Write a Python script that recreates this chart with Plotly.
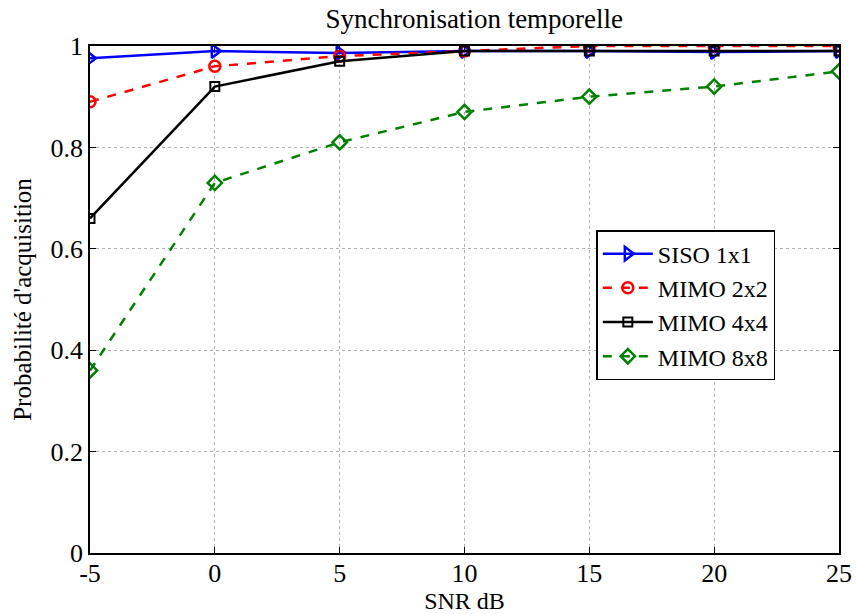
import plotly.graph_objects as go

snr = [-5, 0, 5, 10, 15, 20, 25]
siso_1x1 = [0.976, 0.990, 0.986, 0.990, 0.990, 0.988, 0.990]
mimo_2x2 = [0.89, 0.96, 0.98, 0.99, 1.0, 1.0, 1.0]
mimo_4x4 = [0.66, 0.92, 0.97, 0.99, 0.99, 0.99, 0.99]
mimo_8x8 = [0.36, 0.73, 0.81, 0.87, 0.90, 0.92, 0.95]

x_ticks = [-5, 0, 5, 10, 15, 20, 25]
y_ticks = [0, 0.2, 0.4, 0.6, 0.8, 1]
y_tick_labels = ["0", "0.2", "0.4", "0.6", "0.8", "1"]

FONT = "Liberation Serif, Times New Roman, serif"

fig = go.Figure()
fig.add_trace(go.Scatter(x=snr, y=siso_1x1, name="SISO 1x1", mode="lines+markers",
                         line=dict(color="#0000ff", width=2.5),
                         marker=dict(symbol="triangle-right-open", size=12, color="#0000ff",
                                     line=dict(width=2.5, color="#0000ff"))))
fig.add_trace(go.Scatter(x=snr, y=mimo_2x2, name="MIMO 2x2", mode="lines+markers",
                         line=dict(color="#ff0000", width=2.5, dash="dash"),
                         marker=dict(symbol="circle-open", size=11, color="#ff0000",
                                     line=dict(width=2.5, color="#ff0000"))))
fig.add_trace(go.Scatter(x=snr, y=mimo_4x4, name="MIMO 4x4", mode="lines+markers",
                         line=dict(color="#000000", width=2.5),
                         marker=dict(symbol="square-open", size=9, color="#000000",
                                     line=dict(width=2, color="#000000"))))
fig.add_trace(go.Scatter(x=snr, y=mimo_8x8, name="MIMO 8x8", mode="lines+markers",
                         line=dict(color="#008000", width=2.5, dash="dash"),
                         marker=dict(symbol="diamond-open", size=11, color="#008000",
                                     line=dict(width=2.5, color="#008000"))))

axis_common = dict(showline=True, linecolor="black", linewidth=1.5, mirror="ticks",
                   ticks="inside", ticklen=6, tickcolor="black", automargin=True,
                   showgrid=True, gridcolor="#b0b0b0", griddash="dot", gridwidth=1,
                   zeroline=False, tickfont=dict(family=FONT, size=26, color="black"))

fig.update_xaxes(range=[-5, 25], tickvals=x_ticks, ticktext=[str(v) for v in x_ticks],
                 title=dict(text="SNR dB", font=dict(family=FONT, size=24, color="black"), standoff=2),
                 ticklabelstandoff=-4,
                 **axis_common)
fig.update_yaxes(range=[0, 1], tickvals=y_ticks, ticktext=y_tick_labels,
                 title=dict(text="Probabilité d'acquisition", font=dict(family=FONT, size=25, color="black"), standoff=12),
                 ticklabelstandoff=0,
                 **axis_common)

fig.update_layout(
    width=856, height=614,
    margin=dict(l=90, r=17, t=46, b=61, autoexpand=False),
    plot_bgcolor="white", paper_bgcolor="white",
    title=dict(text="Synchronisation temporelle", x=0.513, xanchor="center",
               xref="paper", yref="container", y=1 - 19 / 614, yanchor="middle",
               font=dict(family=FONT, size=27, color="black"), automargin=False),
    legend=dict(x=0.676, y=0.637, xanchor="left", yanchor="top",
                bgcolor="white", bordercolor="black", borderwidth=1.5,
                font=dict(family=FONT, size=24, color="black"),
                itemwidth=50, tracegroupgap=0),
    showlegend=True,
)

fig.write_html("out.html", config={"displayModeBar": False},
               post_script="document.body.style.margin='0px';document.body.style.overflow='hidden';")
